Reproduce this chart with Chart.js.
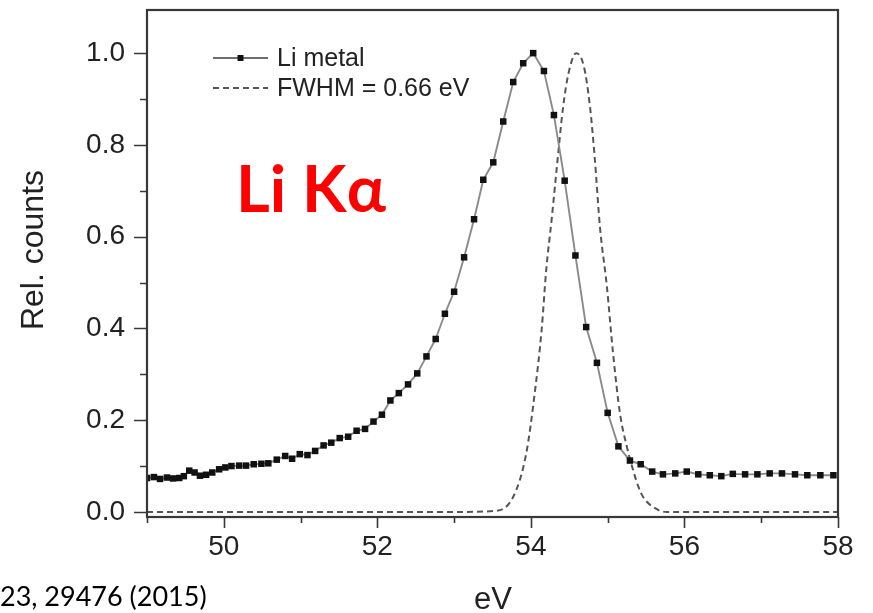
<!DOCTYPE html>
<html>
<head>
<meta charset="utf-8">
<script src="https://cdn.jsdelivr.net/npm/chart.js@4.4.1/dist/chart.umd.min.js"></script>
<style>
  html, body { margin: 0; padding: 0; background: #ffffff; }
  #wrap { width: 873px; height: 613px; position: relative; }
</style>
</head>
<body>
<div id="wrap"><canvas id="c" width="873" height="613"></canvas></div>
<script>
// Measured Li K-alpha emission spectrum of lithium metal (energy in eV, relative counts)
const energyLi = [
  49.00, 49.09, 49.17, 49.26, 49.34, 49.42, 49.48, 49.55, 49.62, 49.69,
  49.77, 49.85, 49.94, 50.02, 50.10, 50.20, 50.29, 50.39, 50.49, 50.58,
  50.69, 50.80, 50.89, 50.99, 51.09, 51.19, 51.30, 51.40, 51.51, 51.62,
  51.73, 51.84, 51.95, 52.06, 52.17, 52.28, 52.40, 52.52, 52.64, 52.76,
  52.88, 53.00, 53.13, 53.26, 53.38, 53.51, 53.64, 53.77, 53.90, 54.03,
  54.17, 54.30, 54.44, 54.58, 54.72, 54.86, 55.00, 55.14, 55.29, 55.43,
  55.58, 55.72, 55.88, 56.03, 56.18, 56.33, 56.48, 56.63, 56.79, 56.95,
  57.11, 57.27, 57.44, 57.60, 57.77, 57.94
];
const countsLi = [
  0.074, 0.076, 0.072, 0.075, 0.073, 0.074, 0.078, 0.090, 0.086, 0.079,
  0.081, 0.086, 0.093, 0.097, 0.100, 0.101, 0.101, 0.104, 0.105, 0.106,
  0.114, 0.122, 0.116, 0.126, 0.124, 0.133, 0.145, 0.151, 0.161, 0.164,
  0.177, 0.181, 0.197, 0.212, 0.243, 0.259, 0.278, 0.302, 0.339, 0.377,
  0.432, 0.480, 0.555, 0.638, 0.724, 0.762, 0.851, 0.937, 0.978, 1.000,
  0.961, 0.865, 0.722, 0.559, 0.403, 0.325, 0.216, 0.143, 0.112, 0.104,
  0.088, 0.082, 0.084, 0.088, 0.082, 0.080, 0.078, 0.083, 0.082, 0.082,
  0.084, 0.084, 0.082, 0.080, 0.080, 0.080
];

// Instrument response profile (FWHM = 0.66 eV), relative counts
const energyFit = [
  49.00, 50.00, 51.00, 52.00, 53.00, 53.51, 53.77, 53.94, 54.05, 54.14,
  54.20, 54.27, 54.33, 54.42, 54.49, 54.59, 54.69, 54.77, 54.83, 54.90,
  54.99, 55.07, 55.16, 55.25, 55.33, 55.40, 55.46, 55.64, 55.77, 56.50,
  57.00, 58.00
];
const countsFit = [
  0.000, 0.000, 0.000, 0.000, 0.000, 0.002, 0.033, 0.128, 0.259, 0.397,
  0.528, 0.637, 0.738, 0.883, 0.956, 1.000, 0.971, 0.883, 0.775, 0.620,
  0.491, 0.346, 0.215, 0.142, 0.092, 0.055, 0.033, 0.006, 0.000, 0.000,
  0.000, 0.000
];

// Axis ticks (minor + labelled major)
const xTickValues = [49, 50, 51, 52, 53, 54, 55, 56, 57, 58];
const xLabelValues = [50, 52, 54, 56, 58];
const yTickValues = [0, 0.1, 0.2, 0.3, 0.4, 0.5, 0.6, 0.7, 0.8, 0.9, 1.0];
const yLabelValues = [0, 0.2, 0.4, 0.6, 0.8, 1.0];

// Text
const seriesNames = ['Li metal', 'FWHM = 0.66 eV'];
const xTitle = 'eV';
const yTitle = 'Rel. counts';
const lineLabel = 'Li K\u03B1';
const sourceNote = '23, 29476 (2015)';

const AXIS_FONT = '"Liberation Sans", Arial, sans-serif';
const INK = '#222222';
const FRAME = '#383838';

const isLabelled = (list, v) => list.some(t => Math.abs(t - v) < 1e-6);

// Frame, outward tick marks, legend and annotations
const decorations = {
  id: 'decorations',
  afterDraw(chart) {
    const ctx = chart.ctx;
    const a = chart.chartArea;
    const xs = chart.scales.x, ys = chart.scales.y;
    ctx.save();

    // ticks
    ctx.strokeStyle = FRAME;
    ctx.lineWidth = 1.6;
    ctx.beginPath();
    yTickValues.forEach(v => {
      const py = Math.round(ys.getPixelForValue(v)) + 0.5;
      const len = isLabelled(yLabelValues, v) ? 13 : 7;
      ctx.moveTo(a.left, py);
      ctx.lineTo(a.left - len, py);
    });
    xTickValues.forEach(v => {
      const px = Math.round(xs.getPixelForValue(v)) + 0.5;
      const len = isLabelled(xLabelValues, v) ? 11 : 6;
      ctx.moveTo(px, a.bottom);
      ctx.lineTo(px, a.bottom + len);
    });
    ctx.stroke();

    // frame
    ctx.lineWidth = 2.2;
    ctx.strokeRect(a.left, a.top, a.right - a.left, a.bottom - a.top);

    // legend
    const lx0 = a.left + 66, lx1 = a.left + 121, tx = a.left + 130;
    const row1 = a.top + 48, row2 = a.top + 78;
    ctx.lineWidth = 1.8;
    ctx.strokeStyle = '#6f6f6f';
    ctx.setLineDash([]);
    ctx.beginPath();
    ctx.moveTo(lx0, row1); ctx.lineTo(lx1, row1);
    ctx.stroke();
    ctx.fillStyle = '#111111';
    ctx.fillRect((lx0 + lx1) / 2 - 3, row1 - 3, 6, 6);
    ctx.strokeStyle = '#555555';
    ctx.setLineDash([6, 4]);
    ctx.beginPath();
    ctx.moveTo(lx0, row2); ctx.lineTo(lx1, row2);
    ctx.stroke();
    ctx.setLineDash([]);
    ctx.fillStyle = INK;
    ctx.font = '25px ' + AXIS_FONT;
    ctx.textAlign = 'left';
    ctx.textBaseline = 'middle';
    ctx.fillText(seriesNames[0], tx, row1 + 1);
    ctx.fillText(seriesNames[1], tx, row2 + 1);

    // axis titles
    ctx.font = '31px ' + AXIS_FONT;
    ctx.textAlign = 'center';
    ctx.textBaseline = 'alphabetic';
    ctx.fillText(xTitle, (a.left + a.right) / 2 + 0.5, 609);
    ctx.save();
    ctx.translate(43, 250);
    ctx.rotate(-Math.PI / 2);
    ctx.font = '32px ' + AXIS_FONT;
    ctx.fillText(yTitle, 0, 0);
    ctx.restore();

    // line label
    ctx.fillStyle = '#ff0000';
    ctx.font = 'bold 65px Lato, "Open Sans", sans-serif';
    ctx.textAlign = 'left';
    ctx.fillText(lineLabel, 236, 212);

    // source note
    ctx.fillStyle = '#000000';
    ctx.font = '27px Lato, "Open Sans", sans-serif';
    ctx.fillText(sourceNote, 0, 606);

    ctx.restore();
  }
};

const noPad = s => { s.paddingTop = 0; s.paddingBottom = 0; s.paddingLeft = 0; s.paddingRight = 0; };

new Chart(document.getElementById('c'), {
  type: 'line',
  data: {
    datasets: [
      {
        label: seriesNames[0],
        data: energyLi.map((e, i) => ({ x: e, y: countsLi[i] })),
        borderColor: '#8a8a8a',
        borderWidth: 1.9,
        tension: 0,
        pointStyle: 'rect',
        pointRadius: 4.6,
        pointBorderWidth: 0,
        pointBackgroundColor: '#111111',
        order: 1
      },
      {
        label: seriesNames[1],
        data: energyFit.map((e, i) => ({ x: e, y: countsFit[i] })),
        borderColor: '#555555',
        borderWidth: 2,
        borderDash: [6, 4],
        cubicInterpolationMode: 'monotone',
        pointRadius: 0,
        order: 2
      }
    ]
  },
  options: {
    responsive: false,
    animation: false,
    devicePixelRatio: 1,
    layout: { padding: { left: 0, right: 35, top: 10, bottom: 0 } },
    plugins: { legend: { display: false }, tooltip: { enabled: false } },
    scales: {
      x: {
        type: 'linear',
        position: 'bottom',
        min: 49,
        max: 58,
        grid: { display: false },
        border: { display: false },
        afterBuildTicks: s => { s.ticks = xTickValues.map(v => ({ value: v })); },
        afterFit: s => { s.height = 96; noPad(s); },
        ticks: {
          autoSkip: false,
          maxRotation: 0,
          padding: 5,
          color: INK,
          font: { family: AXIS_FONT, size: 28 },
          callback: v => isLabelled(xLabelValues, v) ? String(v) : ''
        }
      },
      y: {
        type: 'linear',
        position: 'left',
        min: -0.011,
        max: 1.094,
        grid: { display: false },
        border: { display: false },
        afterBuildTicks: s => { s.ticks = yTickValues.map(v => ({ value: v })); },
        afterFit: s => { s.width = 147; noPad(s); },
        ticks: {
          autoSkip: false,
          padding: 14,
          color: INK,
          font: { family: AXIS_FONT, size: 28 },
          callback: v => isLabelled(yLabelValues, v) ? v.toFixed(1) : ''
        }
      }
    }
  },
  plugins: [decorations]
});
</script>
</body>
</html>
